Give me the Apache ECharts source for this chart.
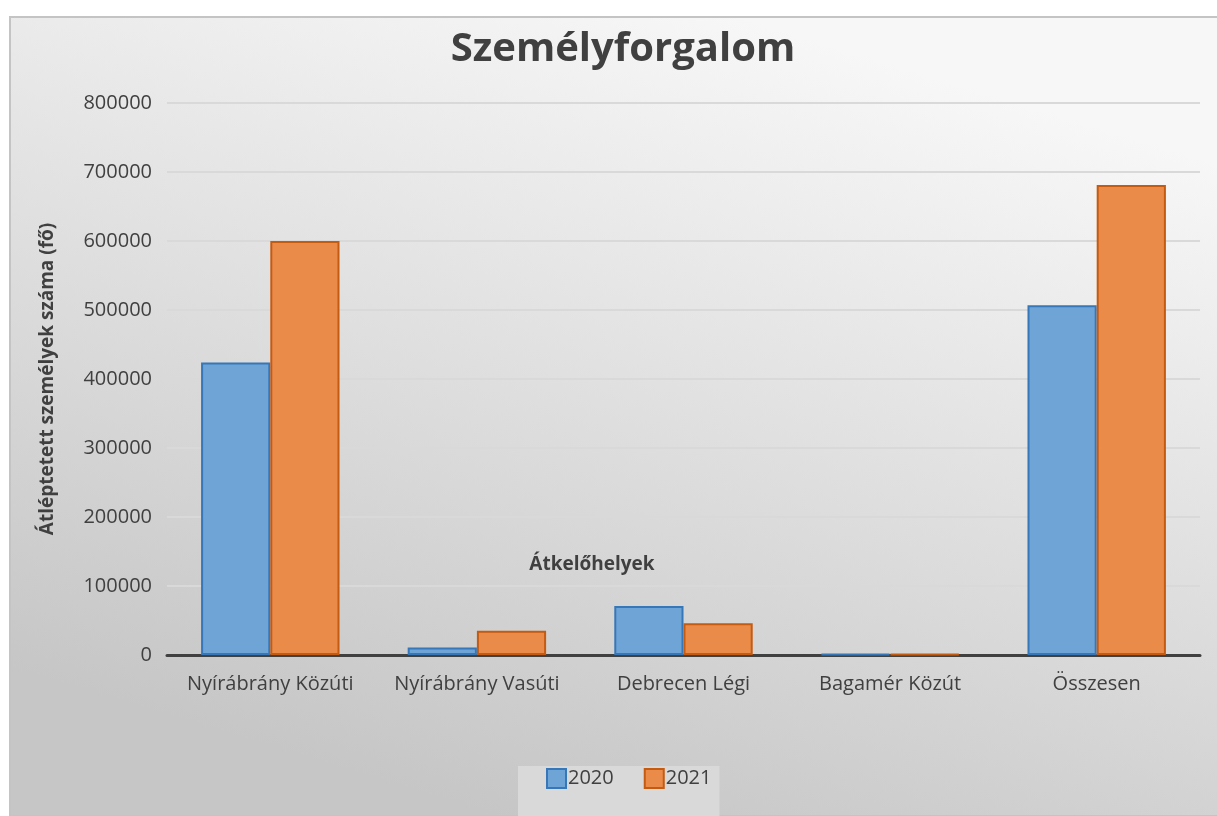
<!DOCTYPE html>
<html>
<head>
<meta charset="utf-8">
<script src="https://cdn.jsdelivr.net/npm/echarts@6/dist/echarts.min.js"></script>
<style>
  html, body { margin: 0; padding: 0; background: #fff; }
  #chart { width: 1217px; height: 816px; }
</style>
</head>
<body>
<div id="chart"></div>
<script>
// adatok
var categories = ['Nyírábrány Közúti', 'Nyírábrány Vasúti', 'Debrecen Légi', 'Bagamér Közút', 'Összesen'];
var values2020 = [424000, 11000, 71000, 1500, 507000];
var values2021 = [600000, 35000, 46000, 1200, 681000];
var yTicks = [0, 800000, 100000]; // min, max, interval

var font = '"Open Sans", "Noto Sans", sans-serif';

window.onload = function () {
  drawChart();
};

function drawChart() {
  var myChart = echarts.init(document.getElementById('chart'));

  var option = {
    textStyle: { fontFamily: font },
    graphic: [
      {
        type: 'rect',
        z: -10,
        silent: true,
        shape: { x: 10, y: 17, width: 1217, height: 799 },
        style: {
          fill: new echarts.graphic.LinearGradient(0.6, 0, 0.4, 1, [
            { offset: 0, color: '#f7f7f7' },
            { offset: 1, color: '#c6c6c6' }
          ]),
          stroke: '#c4c4c4',
          lineWidth: 2
        }
      }
    ],
    title: [
      {
        text: 'Személyforgalom',
        left: 618,
        top: 25,
        textAlign: 'center',
        textStyle: { fontFamily: font, fontSize: 40, fontWeight: 'bold', color: '#404040' }
      },
      {
        text: 'Átkelőhelyek',
        left: 587,
        top: 550,
        textAlign: 'center',
        textStyle: { fontFamily: font, fontSize: 19, fontWeight: 'bold', color: '#404040' }
      }
    ],
    legend: {
      left: 518,
      top: 766,
      padding: [2, 8, 28, 28],
      backgroundColor: '#d9d9d9',
      itemWidth: 19,
      itemHeight: 19,
      itemGap: 30,
      icon: 'rect',
      textStyle: { fontFamily: font, fontSize: 20, color: '#404040', padding: [0, 0, 0, -3] },
      data: ['2020', '2021']
    },
    grid: {
      left: 167,
      right: 17,
      top: 103,
      bottom: 161
    },
    xAxis: {
      type: 'category',
      data: categories,
      axisTick: { show: false },
      axisLine: { lineStyle: { color: '#404040', width: 3 } },
      axisLabel: { interval: 0, fontFamily: font, fontSize: 20, color: '#404040', margin: 19 }
    },
    yAxis: {
      type: 'value',
      min: yTicks[0],
      max: yTicks[1],
      interval: yTicks[2],
      name: 'Átléptetett személyek száma (fő)',
      nameLocation: 'middle',
      nameRotate: 90,
      nameGap: 110,
      nameTextStyle: { fontFamily: font, fontSize: 19, fontWeight: 'bold', color: '#404040' },
      axisLine: { show: false },
      axisTick: { show: false },
      axisLabel: {
        fontFamily: font,
        fontSize: 20,
        color: '#404040',
        margin: 15,
        formatter: function (v) { return String(v); }
      },
      splitLine: { lineStyle: { color: '#d9d9d9', width: 2 } }
    },
    series: [
      {
        name: '2020',
        type: 'bar',
        data: values2020,
        barGap: '0%',
        barCategoryGap: '33%',
        itemStyle: { color: '#6ea4d6', borderColor: '#3577b8', borderWidth: 2 }
      },
      {
        name: '2021',
        type: 'bar',
        data: values2021,
        itemStyle: { color: '#ea8b4a', borderColor: '#c55a11', borderWidth: 2 }
      }
    ]
  };

  myChart.setOption(option);
}
</script>
</body>
</html>
